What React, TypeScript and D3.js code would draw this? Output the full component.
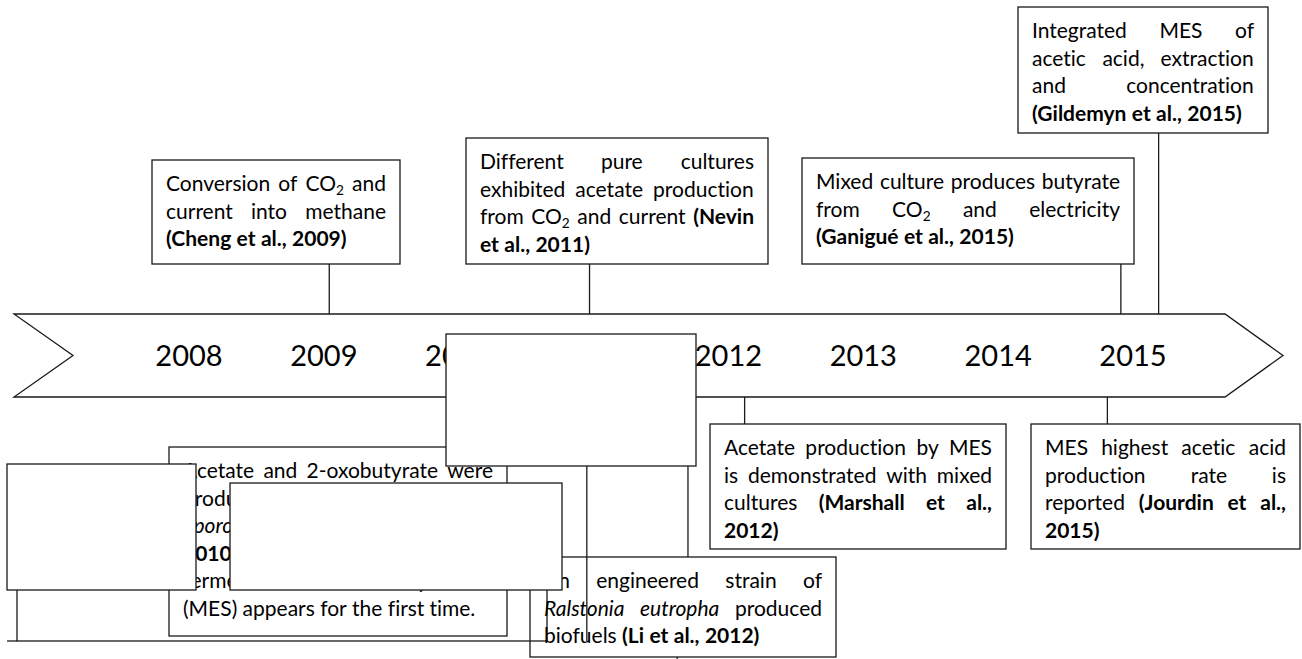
import React, { useMemo } from 'react';
import * as d3 from 'd3';

// ---------- data ----------
const YEARS = [2008, 2009, 2010, 2011, 2012, 2013, 2014, 2015];

type Seg = [string, string]; // [text, style: '' | 'b' | 'i']
type Line = Seg[];

const CHENG: Line[] = [
  [['Conversion of CO₂ and', '']],
  [['current into methane', '']],
  [['(Cheng et al., 2009)', 'b']],
];
const NEVIN_2011: Line[] = [
  [['Different pure cultures', '']],
  [['exhibited acetate production', '']],
  [['from CO₂ and current', ''], ['(Nevin', 'b']],
  [['et al., 2011)', 'b']],
];
const GANIGUE: Line[] = [
  [['Mixed culture produces butyrate', '']],
  [['from CO₂ and electricity', '']],
  [['(Ganigué et al., 2015)', 'b']],
];
const GILDEMYN: Line[] = [
  [['Integrated MES of', '']],
  [['acetic acid, extraction', '']],
  [['and concentration', '']],
  [['(Gildemyn et al., 2015)', 'b']],
];
const MARSHALL: Line[] = [
  [['Acetate production by MES', '']],
  [['is demonstrated with mixed', '']],
  [['cultures', ''], ['(Marshall et al.,', 'b']],
  [['2012)', 'b']],
];
const JOURDIN: Line[] = [
  [['MES highest acetic acid', '']],
  [['production rate is', '']],
  [['reported', ''], ['(Jourdin et al.,', 'b']],
  [['2015)', 'b']],
];
const LI: Line[] = [
  [['An engineered strain of', '']],
  [['Ralstonia eutropha', 'i'], ['produced', '']],
  [['biofuels', ''], ['(Li et al., 2012)', 'b']],
];
const NEVIN_2010: Line[] = [
  [['Acetate and 2-oxobutyrate were', '']],
  [['produced from CO₂ and current by', '']],
  [['Sporomusa ovata', 'i'], ['(Nevin et al.,', 'b']],
  [['2010).', 'b'], ['A new technology,', '']],
  [['termed microbial electrosynthesis', '']],
  [['(MES) appears for the first time.', '']],
];

// stem positions expressed on the year axis
const STEM_YEARS = {
  cheng: 2009.04,
  nevin2011: 2010.97,
  ganigue: 2014.91,
  gildemyn: 2015.19,
  marshall: 2012.12,
  jourdin: 2014.81,
  li: 2011.7,
  extra: 2010.95,
  tick: 2011.62,
};

// ---------- layout ----------
const W = 1302;
const H = 659;
const FONT = 'Lato, "Open Sans", sans-serif';
const FS = 21;
const YEAR_FS = 29;
const LH = 27.5;
const PAD = 14;
const STROKE = '#1a1a1a';
const SW = 1.3;
const ARROW = { left: 14, notch: 73, right: 1225, tip: 1283, top: 314, bottom: 397 };

type Box = { lines: Line[]; x0: number; x1: number; y0: number; y1: number; fill: boolean; stem?: number; side?: 'top' | 'bottom' };

const BOXES_TOP: Box[] = [
  { lines: CHENG, x0: 152, x1: 400, y0: 160, y1: 264, fill: true, stem: STEM_YEARS.cheng, side: 'top' },
  { lines: NEVIN_2011, x0: 466, x1: 768, y0: 138, y1: 264, fill: true, stem: STEM_YEARS.nevin2011, side: 'top' },
  { lines: GANIGUE, x0: 802, x1: 1134, y0: 158, y1: 264, fill: true, stem: STEM_YEARS.ganigue, side: 'top' },
  { lines: GILDEMYN, x0: 1018, x1: 1268, y0: 7, y1: 133, fill: true, stem: STEM_YEARS.gildemyn, side: 'top' },
];
const BOX_NEVIN10: Box = { lines: NEVIN_2010, x0: 169, x1: 507, y0: 447, y1: 636, fill: true };
const BOX_LI: Box = { lines: LI, x0: 530, x1: 836, y0: 557, y1: 657, fill: false, stem: STEM_YEARS.li, side: 'bottom' };
const BOXES_BOTTOM: Box[] = [
  { lines: MARSHALL, x0: 710, x1: 1006, y0: 424, y1: 549, fill: true, stem: STEM_YEARS.marshall, side: 'bottom' },
  { lines: JOURDIN, x0: 1031, x1: 1300, y0: 424, y1: 549, fill: true, stem: STEM_YEARS.jourdin, side: 'bottom' },
];
const HIDDEN_FRAME = { x0: 17, x1: 547, y0: 500, y1: 641 };
const COVERS = [
  { x0: 446, x1: 696, y0: 334, y1: 466 },
  { x0: 7, x1: 196, y0: 464, y1: 590 },
  { x0: 230, x1: 562, y0: 483, y1: 590 },
];

// ---------- text measurement ----------
let ctx: CanvasRenderingContext2D | null = null;
function measure(t: string, size: number, b: boolean, i: boolean) {
  if (!ctx) ctx = document.createElement('canvas').getContext('2d');
  if (!ctx) return t.length * size * 0.5;
  ctx.font = `${i ? 'italic ' : ''}${b ? 700 : 400} ${size}px ${FONT}`;
  return ctx.measureText(t).width;
}
type Word = { t: string; b: boolean; i: boolean; w: number; x: number };
function wordWidth(t: string, b: boolean, i: boolean) {
  const k = t.indexOf('₂');
  if (k < 0) return measure(t, FS, b, i);
  return measure(t.slice(0, k), FS, b, i) + measure('2', FS * 0.65, b, i) + measure(t.slice(k + 1), FS, b, i);
}
function layoutBox(box: Box) {
  const avail = box.x1 - box.x0 - 2 * PAD;
  return box.lines.map((line, li) => {
    const words: Word[] = [];
    line.forEach(([text, st]) => {
      text.split(' ').filter(Boolean).forEach((t) => {
        const b = st === 'b';
        const i = st === 'i';
        words.push({ t, b, i, w: wordWidth(t, b, i), x: 0 });
      });
    });
    const total = d3.sum(words, (d) => d.w);
    const justify = li < box.lines.length - 1 && words.length > 1;
    const space = measure(' ', FS, false, false);
    const gap = justify ? (avail - total) / (words.length - 1) : space;
    let x = box.x0 + PAD;
    words.forEach((wd) => {
      wd.x = x;
      x += wd.w + gap;
    });
    return { y: box.y0 + 31 + li * LH, words };
  });
}

function WordText({ wd, y }: { wd: Word; y: number }) {
  const k = wd.t.indexOf('₂');
  const common = {
    x: wd.x,
    y,
    fontWeight: wd.b ? 700 : 400,
    fontStyle: wd.i ? 'italic' : 'normal',
  };
  if (k < 0) return <text {...common}>{wd.t}</text>;
  const pre = wd.t.slice(0, k);
  const post = wd.t.slice(k + 1);
  return (
    <text {...common}>
      {pre}
      <tspan fontSize={FS * 0.65} dy={4}>2</tspan>
      {post ? <tspan dy={-4}>{post}</tspan> : null}
    </text>
  );
}

function BoxView({ box }: { box: Box }) {
  const lines = useMemo(() => layoutBox(box), [box]);
  return (
    <g>
      <rect
        x={box.x0}
        y={box.y0}
        width={box.x1 - box.x0}
        height={box.y1 - box.y0}
        fill={box.fill ? '#fff' : 'none'}
        stroke={STROKE}
        strokeWidth={SW}
      />
      <g fontFamily={FONT} fontSize={FS} fill="#000">
        {lines.map((ln, i) => ln.words.map((wd, j) => <WordText key={`${i}-${j}`} wd={wd} y={ln.y} />))}
      </g>
    </g>
  );
}

export default function App() {
  const x = d3.scaleLinear().domain([2008, 2015]).range([189, 1133]);
  const arrowPath = d3.path();
  arrowPath.moveTo(ARROW.left, ARROW.top);
  arrowPath.lineTo(ARROW.right, ARROW.top);
  arrowPath.lineTo(ARROW.tip, (ARROW.top + ARROW.bottom) / 2);
  arrowPath.lineTo(ARROW.right, ARROW.bottom);
  arrowPath.lineTo(ARROW.left, ARROW.bottom);
  arrowPath.lineTo(ARROW.notch, (ARROW.top + ARROW.bottom) / 2);
  arrowPath.closePath();

  const stemLine = (xv: number, y1: number, y2: number, key: string) => (
    <line key={key} x1={xv} x2={xv} y1={y1} y2={y2} stroke={STROKE} strokeWidth={SW} />
  );

  return (
    <svg
      width={W}
      height={H}
      style={{ position: 'absolute', left: 0, top: 0, background: '#fff', fontVariantLigatures: 'none' }}
    >
      <rect x={0} y={0} width={W} height={H} fill="#fff" />
      {/* timeline arrow */}
      <path d={arrowPath.toString()} fill="#fff" stroke={STROKE} strokeWidth={SW} />
      <g fontFamily={FONT} fontSize={YEAR_FS} textAnchor="middle" fill="#000">
        {YEARS.map((yr) => (
          <text key={yr} x={x(yr)} y={366}>
            {yr}
          </text>
        ))}
      </g>

      {/* top events */}
      {BOXES_TOP.map((b, i) => stemLine(x(b.stem!), b.y1, ARROW.top, `ts${i}`))}
      {BOXES_TOP.map((b, i) => (
        <BoxView key={`tb${i}`} box={b} />
      ))}

      {/* bottom connectors */}
      {BOXES_BOTTOM.map((b, i) => stemLine(x(b.stem!), ARROW.bottom, b.y0, `bs${i}`))}
      {stemLine(x(BOX_LI.stem!), ARROW.bottom, BOX_LI.y0, 'lis')}

      {/* partially hidden frame */}
      <rect
        x={HIDDEN_FRAME.x0}
        y={HIDDEN_FRAME.y0}
        width={HIDDEN_FRAME.x1 - HIDDEN_FRAME.x0}
        height={HIDDEN_FRAME.y1 - HIDDEN_FRAME.y0}
        fill="none"
        stroke={STROKE}
        strokeWidth={SW}
      />
      <line x1={7} x2={HIDDEN_FRAME.x0} y1={HIDDEN_FRAME.y1} y2={HIDDEN_FRAME.y1} stroke={STROKE} strokeWidth={SW} />

      <BoxView box={BOX_NEVIN10} />
      <BoxView box={BOX_LI} />
      {stemLine(x(STEM_YEARS.extra), ARROW.bottom, HIDDEN_FRAME.y1, 'extra')}
      {stemLine(x(STEM_YEARS.tick), BOX_LI.y1, H, 'tick')}
      {BOXES_BOTTOM.map((b, i) => (
        <BoxView key={`bb${i}`} box={b} />
      ))}

      {/* blank covering boxes */}
      {COVERS.map((c, i) => (
        <rect
          key={`c${i}`}
          x={c.x0}
          y={c.y0}
          width={c.x1 - c.x0}
          height={c.y1 - c.y0}
          fill="#fff"
          stroke={STROKE}
          strokeWidth={SW}
        />
      ))}
    </svg>
  );
}
